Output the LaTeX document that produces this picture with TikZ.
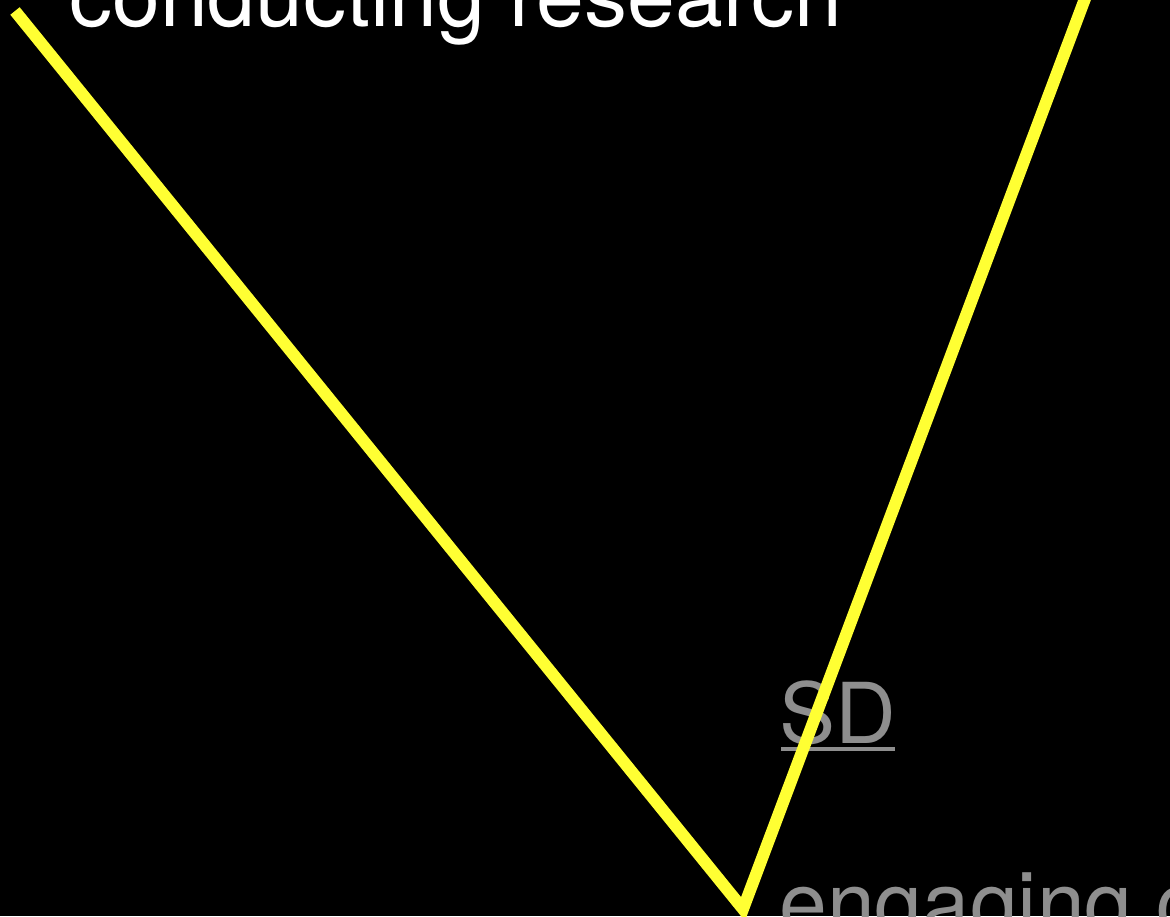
\documentclass[tikz,border=0pt]{standalone}
\usepackage{fontspec}
\setmainfont{TeX Gyre Heros}
\definecolor{vyellow}{HTML}{FFFF33}
\definecolor{labgray}{HTML}{8E8E8E}
\begin{document}
\begin{tikzpicture}[x=1pt,y=-1pt,
  bigtext/.style={font=\fontsize{86}{100}\selectfont, inner sep=0pt, anchor=base west},
  vline/.style={draw=vyellow, line width=12pt, line join=miter, line cap=butt}]
\fill[black] (0,0) rectangle (1170,916);
\useasboundingbox (0,0) rectangle (1170,916);
\clip (0,0) rectangle (1170,916);
\node[bigtext, text=white] (title) at (69,26) {conducting research};
\node[bigtext, text=labgray, font=\fontsize{84}{100}\selectfont] (SD) at (779,743) {SD};
\draw[labgray, line width=4pt] ([xshift=2pt,yshift=-6pt]SD.base west) -- ([xshift=-1pt,yshift=-6pt]SD.base east);
\node[bigtext, text=labgray] (eng) at (779,933) {engaging c};
\coordinate (a) at (15,11);
\coordinate (v) at (743,909);
\coordinate (b) at (1092,-20);
\draw[vline] (a) -- (v) -- (b);
\end{tikzpicture}
\end{document}
